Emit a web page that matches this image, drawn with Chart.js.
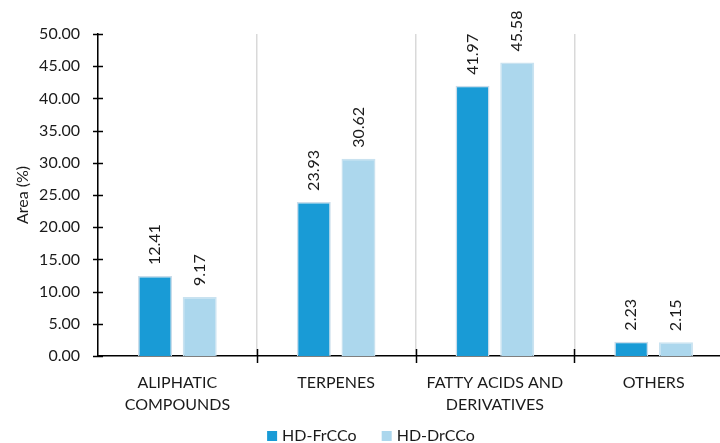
<!DOCTYPE html>
<html>
<head>
<meta charset="utf-8">
<script src="https://cdn.jsdelivr.net/npm/chart.js@4/dist/chart.umd.min.js"></script>
<style>
  html, body { margin: 0; padding: 0; background: #fff; overflow: hidden; }
  #wrap { width: 735px; height: 443px; position: relative; }
</style>
</head>
<body>
<div id="wrap"><canvas id="c"></canvas></div>
<script>
// Compound classes (x categories)
const categories = [
  ['ALIPHATIC', 'COMPOUNDS'],
  ['TERPENES'],
  ['FATTY ACIDS AND', 'DERIVATIVES'],
  ['OTHERS']
];
// Relative area (%) per class
const seriesNames = ['HD-FrCCo', 'HD-DrCCo'];
const frValues = [12.41, 23.93, 41.97, 2.23];
const drValues = [9.17, 30.62, 45.58, 2.15];
// Y axis range
const yMin = 0, yMax = 50, yStep = 5;

const FONT = 'Lato, "Liberation Sans", sans-serif';
const TEXT = '#1a1a1a';
const FS = 16;

// Value labels above bars, tick crosses on both axes, and a compact legend strip
const decorations = {
  id: 'decorations',
  afterDatasetsDraw(chart) {
    const ctx = chart.ctx;
    ctx.save();
    ctx.font = FS + 'px ' + FONT;
    ctx.fillStyle = TEXT;
    ctx.textAlign = 'left';
    ctx.textBaseline = 'middle';
    chart.data.datasets.forEach((ds, di) => {
      chart.getDatasetMeta(di).data.forEach((bar, i) => {
        ctx.save();
        ctx.translate(bar.x, bar.y - 11);
        ctx.rotate(-Math.PI / 2);
        ctx.fillText(ds.data[i].toFixed(2), 0, 0);
        ctx.restore();
      });
    });
    ctx.restore();
  },
  afterDraw(chart) {
    const ctx = chart.ctx;
    const xs = chart.scales.x, ys = chart.scales.y;
    ctx.save();
    ctx.strokeStyle = '#000';
    ctx.lineWidth = 1.5;
    const ax = chart.chartArea.left;
    ys.ticks.forEach(t => {
      const py = Math.round(ys.getPixelForValue(t.value)) + 0.5;
      ctx.beginPath();
      ctx.moveTo(ax - 5, py);
      ctx.lineTo(ax + 5, py);
      ctx.stroke();
    });
    const by = chart.chartArea.bottom;
    for (let i = 1; i < categories.length; i++) {
      const px = Math.round((xs.getPixelForValue(i - 1) + xs.getPixelForValue(i)) / 2) + 0.5;
      ctx.beginPath();
      ctx.moveTo(px, by - 7);
      ctx.lineTo(px, by + 7);
      ctx.stroke();
    }

    // legend
    ctx.font = FS + 'px ' + FONT;
    ctx.textBaseline = 'middle';
    ctx.textAlign = 'left';
    const box = 10, gapBox = 5, gapItem = 25, ly = 436;
    const items = chart.data.datasets.map(ds => ({ text: ds.label, color: ds.backgroundColor, w: ctx.measureText(ds.label).width }));
    const total = items.reduce((s, it) => s + box + gapBox + it.w, 0) + gapItem * (items.length - 1);
    let lx = 371 - total / 2;
    items.forEach(it => {
      ctx.fillStyle = it.color;
      ctx.fillRect(lx, ly - box / 2, box, box);
      lx += box + gapBox;
      ctx.fillStyle = TEXT;
      ctx.fillText(it.text, lx, ly);
      lx += it.w + gapItem;
    });
    ctx.restore();
  }
};

new Chart(document.getElementById('c'), {
  type: 'bar',
  data: {
    labels: categories,
    datasets: [
      { label: seriesNames[0], data: frValues, backgroundColor: '#199bd6', borderColor: '#c9dcea', borderWidth: 1.5 },
      { label: seriesNames[1], data: drValues, backgroundColor: '#acd7ed', borderColor: '#c9e2f0', borderWidth: 1.5 }
    ]
  },
  options: {
    responsive: true,
    maintainAspectRatio: false,
    animation: false,
    layout: { padding: { top: 34, left: 0, right: 2, bottom: 0 } },
    datasets: { bar: { categoryPercentage: 0.563, barPercentage: 0.76 } },
    scales: {
      x: {
        grid: { display: true, offset: true, color: '#d9d9d9', lineWidth: 1.5, drawTicks: false },
        border: { display: true, color: '#000', width: 1.5 },
        ticks: { color: TEXT, font: { family: FONT, size: FS, lineHeight: 1.375 }, padding: 16, maxRotation: 0, autoSkip: false },
        afterFit(s) { s.height = 87; }
      },
      y: {
        min: yMin, max: yMax,
        grid: { display: false, drawTicks: false },
        border: { display: true, color: '#000', width: 1.5 },
        ticks: { stepSize: yStep, color: TEXT, font: { family: FONT, size: FS }, padding: 18,
                 callback: v => v.toFixed(2) },
        title: { display: true, text: 'Area (%)', color: TEXT, font: { family: FONT, size: FS }, padding: { top: 13, bottom: 0 } },
        afterFit(s) { s.width = 98; }
      }
    },
    plugins: {
      legend: { display: false },
      tooltip: { enabled: false }
    }
  },
  plugins: [decorations]
});
</script>
</body>
</html>
